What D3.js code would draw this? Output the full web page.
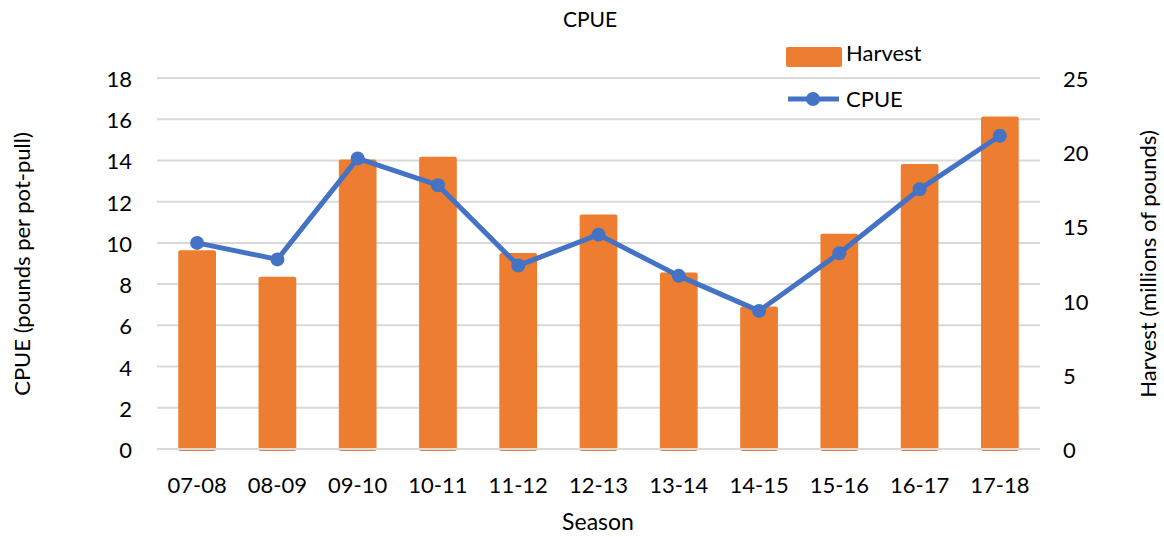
<!DOCTYPE html>
<html>
<head>
<meta charset="utf-8">
<script src="https://cdn.jsdelivr.net/npm/d3@7"></script>
<style>
  body { margin: 0; background: #fff; }
  text { font-family: Lato, "Open Sans", sans-serif; fill: #000; }
</style>
</head>
<body>
<div id="chart"></div>
<script>
// data
var seasons = ["07-08", "08-09", "09-10", "10-11", "11-12", "12-13", "13-14", "14-15", "15-16", "16-17", "17-18"];
var harvest = [13.4, 11.6, 19.5, 19.7, 13.2, 15.8, 11.9, 9.6, 14.5, 19.2, 22.4];
var cpue = [10.0, 9.2, 14.1, 12.8, 8.9, 10.4, 8.4, 6.7, 9.5, 12.6, 15.2];
var leftTicks = [0, 2, 4, 6, 8, 10, 12, 14, 16, 18];
var rightTicks = [0, 5, 10, 15, 20, 25];

var width = 1164, height = 537;
var plotLeft = 157, plotRight = 1040, plotTop = 78, plotBottom = 449;

var svg = d3.select("#chart").append("svg")
    .attr("width", width)
    .attr("height", height);

var x = d3.scaleBand().domain(seasons).range([plotLeft, plotRight]).paddingInner(0.53).paddingOuter(0.265);
var yL = d3.scaleLinear().domain([0, 18]).range([plotBottom, plotTop]);
var yR = d3.scaleLinear().domain([0, 25]).range([plotBottom, plotTop]);

// gridlines
svg.append("g").selectAll("line")
    .data(leftTicks.slice(1))
    .enter().append("line")
      .attr("x1", plotLeft).attr("x2", plotRight)
      .attr("y1", function(d) { return yL(d); })
      .attr("y2", function(d) { return yL(d); })
      .attr("stroke", "#d9d9d9").attr("stroke-width", 2);

// bars
svg.append("g").selectAll("rect")
    .data(harvest)
    .enter().append("rect")
      .attr("x", function(d, i) { return x(seasons[i]); })
      .attr("y", function(d) { return yR(d); })
      .attr("width", x.bandwidth())
      .attr("height", function(d) { return plotBottom - yR(d) + 2; })
      .attr("rx", 2)
      .attr("fill", "#ed7d31");

// zero line over the bars
svg.append("line")
    .attr("x1", plotLeft).attr("x2", plotRight)
    .attr("y1", yL(0)).attr("y2", yL(0))
    .attr("stroke", "#d9d9d9").attr("stroke-width", 2);

// cpue line
var cx = function(i) { return x(seasons[i]) + x.bandwidth() / 2; };
var line = d3.line()
    .x(function(d, i) { return cx(i); })
    .y(function(d) { return yL(d); });

svg.append("path")
    .datum(cpue)
    .attr("d", line)
    .attr("fill", "none")
    .attr("stroke", "#4472c4")
    .attr("stroke-width", 5)
    .attr("stroke-linejoin", "round");

svg.append("g").selectAll("circle")
    .data(cpue)
    .enter().append("circle")
      .attr("cx", function(d, i) { return cx(i); })
      .attr("cy", function(d) { return yL(d); })
      .attr("r", 7)
      .attr("fill", "#4472c4");

// axes
var axL = svg.append("g").attr("transform", "translate(" + (plotLeft - 25) + ",0)")
    .call(d3.axisLeft(yL).tickValues(leftTicks).tickSize(0).tickPadding(0));
var axR = svg.append("g").attr("transform", "translate(" + (plotRight + 23) + ",0)")
    .call(d3.axisRight(yR).tickValues(rightTicks).tickSize(0).tickPadding(0));
var axB = svg.append("g").attr("transform", "translate(0," + (plotBottom + 35) + ")")
    .call(d3.axisBottom(x).tickSize(0).tickPadding(0));

[axL, axR, axB].forEach(function(a) {
  a.select(".domain").remove();
  a.selectAll("text").style("font-size", "22px").attr("dy", null)
    .attr("dominant-baseline", "central");
});

// titles
svg.append("text").attr("x", 590).attr("y", 27).attr("text-anchor", "middle")
    .style("font-size", "21px").text("CPUE");
svg.append("text").attr("x", 598).attr("y", 530).attr("text-anchor", "middle")
    .style("font-size", "23px").text("Season");
svg.append("text").attr("transform", "translate(30,264) rotate(-90)").attr("text-anchor", "middle")
    .style("font-size", "22px").text("CPUE (pounds per pot-pull)");
svg.append("text").attr("transform", "translate(1156,264) rotate(-90)").attr("text-anchor", "middle")
    .style("font-size", "22px").text("Harvest (millions of pounds)");

// legend
var lg = svg.append("g");
lg.append("rect").attr("x", 786).attr("y", 47).attr("width", 56).attr("height", 20)
    .attr("rx", 2).attr("fill", "#ed7d31");
lg.append("text").attr("x", 846).attr("y", 61).style("font-size", "22px").text("Harvest");
lg.append("line").attr("x1", 788).attr("x2", 839).attr("y1", 99).attr("y2", 99)
    .attr("stroke", "#4472c4").attr("stroke-width", 5);
lg.append("circle").attr("cx", 813).attr("cy", 99).attr("r", 7).attr("fill", "#4472c4");
lg.append("text").attr("x", 846).attr("y", 107).style("font-size", "22px").text("CPUE");
</script>
</body>
</html>
